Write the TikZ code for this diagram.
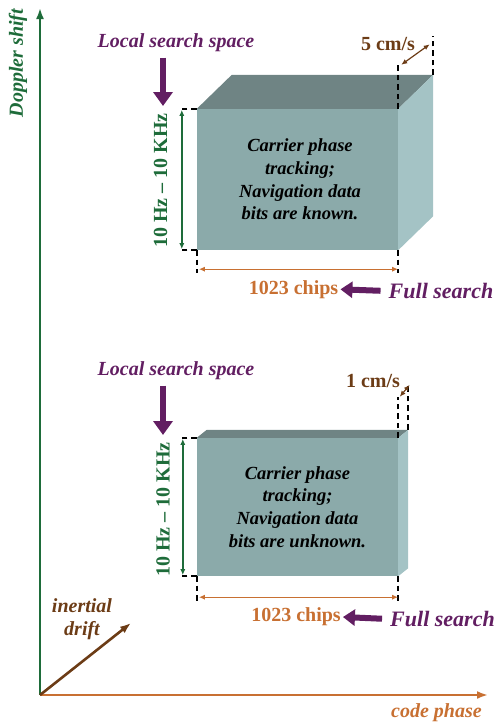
\documentclass[tikz,border=0pt]{standalone}
\usepackage{fontspec}
\setmainfont{Liberation Serif}
\usepackage{tikz}
\usetikzlibrary{arrows.meta,positioning,calc}
\definecolor{DopGreen}{RGB}{30,108,58}
\definecolor{CodeOrange}{RGB}{200,112,50}
\definecolor{DriftBrown}{RGB}{108,60,22}
\definecolor{SearchPurple}{RGB}{98,30,98}
\definecolor{FaceFront}{RGB}{139,170,170}
\definecolor{FaceTop}{RGB}{111,132,132}
\definecolor{FaceSide}{RGB}{164,195,197}
\tikzset{
  face/.style    ={rectangle, fill=FaceFront, minimum width=201pt, inner sep=0pt,
                   align=center, font=\fontsize{18.5}{22.7}\selectfont\bfseries\itshape},
  guide/.style   ={draw=black, line width=1.8pt, dash pattern=on 5.5pt off 4pt},
  axisarr/.style ={-{Latex[length=11pt,width=8pt]}, line width=2.6pt},
  dimarr/.style  ={{Latex[length=6pt,width=5pt]}-{Latex[length=6pt,width=5pt]}, line width=1.4pt},
  bigarr/.style  ={-{Triangle[length=14pt,width=19pt]}, draw=SearchPurple, line width=6pt},
  sidearr/.style ={-{Triangle[length=12pt,width=16pt]}, draw=SearchPurple, line width=6pt},
  lab/.style     ={inner sep=2pt, font=\fontsize{20}{23}\selectfont\bfseries},
  ilab/.style    ={lab, font=\fontsize{20}{23}\selectfont\bfseries\itshape},
}

\begin{document}
\begin{tikzpicture}[x=1pt,y=-1pt]
  \useasboundingbox (0,0) rectangle (503,724);

  % axes
  \coordinate (O) at (40,695);
  \coordinate (dop) at (40,8);
  \coordinate (cph) at (488,695);
  \coordinate (drf) at (131,623);
  \draw[axisarr,draw=DopGreen] (O) -- (dop);
  \draw[axisarr,draw=CodeOrange] (O) -- (cph);
  \draw[axisarr,draw=DriftBrown] (O) -- (drf);
  \node[ilab,text=DopGreen,rotate=90] (dopl) at (18,63) {Doppler shift};
  \node[ilab,text=CodeOrange] (cphl) at (436.5,713) {code phase};
  \node[ilab,text=DriftBrown,align=center] (drfl) at (82,619) {inertial\\drift};

  % upper block
  \node[face,minimum height=141pt] (f1) at (297.5,179.5)
       {\hspace*{5pt}Carrier phase\\\hspace*{5pt}tracking;\\\hspace*{5pt}Navigation data\\\hspace*{5pt}bits are known.};
  \coordinate (b1) at ($(f1.north east)+(35,-34)$);
  \fill[FaceTop] (f1.north west) -- ++(35,-34) -- (b1) -- (f1.north east) -- cycle;
  \fill[FaceSide] (f1.north east) -- (b1) -- ($(f1.south east)+(35,-34)$) -- (f1.south east) -- cycle;
  \draw[guide] (f1.north west) -- ++(-17,0);
  \draw[guide] (f1.south west) -- ++(-17,0);
  \draw[guide] (f1.south west) -- ++(0,23);
  \draw[guide] (f1.south east) -- ++(0,23);
  \draw[guide] (f1.north east) -- ++(0,-45);
  \draw[guide] (b1) -- ++(0,-39);

  \coordinate (h1a) at ($(f1.north west)+(-15,1)$);
  \coordinate (h1b) at ($(f1.south west)+(-15,-1)$);
  \draw[dimarr,draw=DopGreen] (h1a) -- (h1b);
  \node[lab,text=DopGreen,rotate=90] (hz1) at (160.5,180.5) {10 Hz -- 10 KHz};

  \coordinate (c1a) at ($(f1.south west)+(2,19)$);
  \coordinate (c1b) at ($(f1.south east)+(0,19)$);
  \draw[dimarr,draw=CodeOrange] (c1a) -- (c1b);
  \node[lab,text=CodeOrange] (ch1) at (293.5,289.3) {1023 chips};
  \node[ilab,text=SearchPurple,font=\fontsize{22}{26}\selectfont\bfseries\itshape] (fs1) at (441,291) {Full search};
  \draw[sidearr,shorten <=6pt] (fs1.west) -- (ch1.east);

  \node[ilab,text=SearchPurple] (ls1) at (176,42.3) {Local search space};
  \coordinate (d1) at (163,106);
  \draw[bigarr,shorten <=4pt] (ls1.south -| d1) -- (d1);

  \coordinate (v1a) at ($(f1.north east)+(3,-44)$);
  \coordinate (v1b) at ($(b1)+(-3.5,-30.5)$);
  \draw[dimarr,draw=DriftBrown,line width=1.2pt] (v1a) -- (v1b);
  \node[lab,text=DriftBrown] (sp1) at (388,44.3) {5 cm/s};

  % lower block
  \node[face,minimum height=138pt] (f2) at (297.5,507)
       {Carrier phase\\tracking;\\Navigation data\\bits are unknown.};
  \coordinate (b2) at ($(f2.north east)+(10,-8)$);
  \fill[FaceTop] (f2.north west) -- ++(10,-8) -- (b2) -- (f2.north east) -- cycle;
  \fill[FaceSide] (f2.north east) -- (b2) -- ($(f2.south east)+(10,-8)$) -- (f2.south east) -- cycle;
  \draw[guide] (f2.north west) -- ++(-16,0);
  \draw[guide] (f2.south west) -- ++(-16,0);
  \draw[guide] (f2.south west) -- ++(0,25);
  \draw[guide] (f2.south east) -- ++(0,25);
  \draw[guide] (f2.north east) -- ++(0,-41);
  \draw[guide] (b2) -- ++(0,-45);

  \coordinate (h2a) at ($(f2.north west)+(-14,1)$);
  \coordinate (h2b) at ($(f2.south west)+(-14,-1)$);
  \draw[dimarr,draw=DopGreen] (h2a) -- (h2b);
  \node[lab,text=DopGreen,rotate=90] (hz2) at (163,509.5) {10 Hz -- 10 KHz};

  \coordinate (c2a) at ($(f2.south west)+(2,21)$);
  \coordinate (c2b) at ($(f2.south east)+(0,21)$);
  \draw[dimarr,draw=CodeOrange] (c2a) -- (c2b);
  \node[lab,text=CodeOrange] (ch2) at (296,617) {1023 chips};
  \node[ilab,text=SearchPurple,font=\fontsize{22}{26}\selectfont\bfseries\itshape] (fs2) at (442.5,619) {Full search};
  \draw[sidearr,shorten <=6pt] (fs2.west) -- (ch2.east);

  \node[ilab,text=SearchPurple] (ls2) at (176,370.3) {Local search space};
  \coordinate (d2) at (163,435);
  \draw[bigarr,shorten <=4pt] (ls2.south -| d2) -- (d2);

  \coordinate (v2a) at ($(f2.north east)+(1.5,-41)$);
  \coordinate (v2b) at ($(b2)+(1.5,-45)$);
  \draw[dimarr,draw=DriftBrown,line width=1.2pt] (v2a) -- (v2b);
  \node[lab,text=DriftBrown] (sp2) at (373,381) {1 cm/s};
\end{tikzpicture}
\end{document}
